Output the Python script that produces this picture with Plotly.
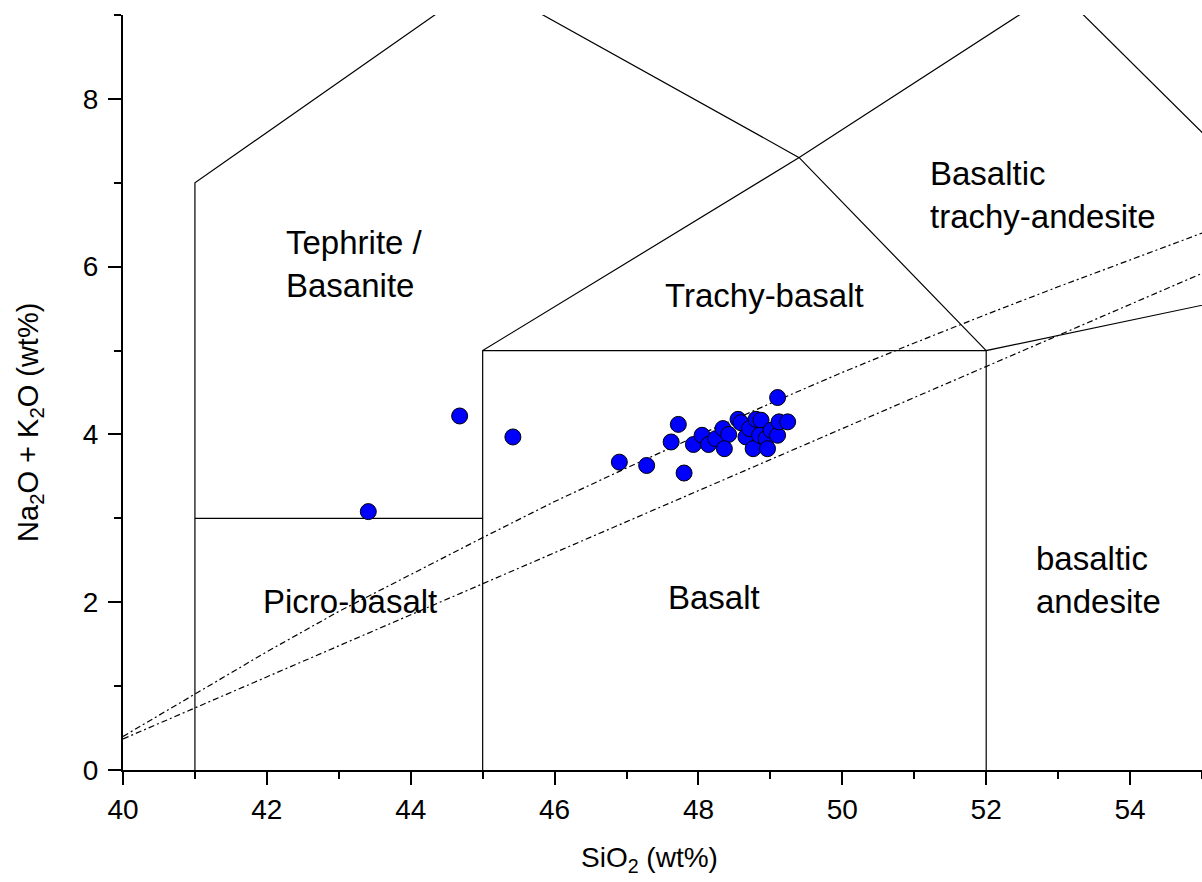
import plotly.graph_objects as go

# Sample analyses: SiO2 vs total alkalis (wt%)
sio2 = [43.41, 44.68, 45.42, 46.90, 47.28, 47.80, 47.62, 47.72, 47.93, 48.05,
        48.14, 48.24, 48.34, 48.42, 48.36, 48.55, 48.59, 48.66, 48.71, 48.76,
        48.80, 48.87, 48.85, 48.94, 48.96, 49.01, 49.10, 49.12, 49.24, 49.10]
alkali = [3.08, 4.22, 3.97, 3.67, 3.63, 3.54, 3.91, 4.12, 3.88, 3.99,
          3.88, 3.95, 4.07, 4.00, 3.83, 4.18, 4.14, 3.97, 4.07, 3.83,
          4.18, 4.17, 3.99, 3.95, 3.83, 4.05, 3.99, 4.15, 4.15, 4.44]

# TAS field boundaries (Le Bas et al.)
boundaries = [
    ([41, 41, 45], [0, 7, 9.4]),
    ([41, 45], [3, 3]),
    ([45, 45, 49.4, 53], [0, 5, 7.3, 9.3]),
    ([45, 52], [5, 5]),
    ([52, 52, 57], [0, 5, 5.9]),
    ([45, 49.4, 52], [9.4, 7.3, 5]),
    ([53, 57], [9.3, 5.9]),
]

# Alkaline / subalkaline divides
ib_x = [40, 41, 42, 43, 44, 45, 46, 47, 48, 49, 50, 51, 52, 53, 54, 55]
ib_y = [0.40, 0.91, 1.41, 1.89, 2.33, 2.77, 3.20, 3.60, 3.99, 4.37,
        4.74, 5.09, 5.43, 5.76, 6.08, 6.40]
mk_x = [40, 55]
mk_y = [0.37, 5.92]

# Field names
field_labels = ["Tephrite /<br>Basanite", "Trachy-basalt", "Basaltic<br>trachy-andesite",
                "Picro-basalt", "Basalt", "basaltic<br>andesite"]
label_x = [42.24, 48.92, 51.19, 43.15, 48.21, 52.67]
label_y = [6.03, 5.66, 6.85, 2.01, 2.06, 2.26]
label_anchor = ["left", "center", "left", "center", "center", "left"]

FONT = "Liberation Sans, Arial, sans-serif"

fig = go.Figure()

for bx, by in boundaries:
    fig.add_trace(go.Scatter(x=bx, y=by, mode="lines",
                             line=dict(color="black", width=1.2),
                             hoverinfo="skip", showlegend=False))

for dx, dy in [(ib_x, ib_y), (mk_x, mk_y)]:
    fig.add_trace(go.Scatter(x=dx, y=dy, mode="lines",
                             line=dict(color="black", width=1.2, dash="6px,3px,2px,3px"),
                             hoverinfo="skip", showlegend=False))

fig.add_trace(go.Scatter(x=sio2, y=alkali, mode="markers",
                         marker=dict(size=16, color="#0000FF",
                                     line=dict(color="black", width=1)),
                         showlegend=False))

for txt, lx, ly, anc in zip(field_labels, label_x, label_y, label_anchor):
    fig.add_annotation(x=lx, y=ly, text=txt, showarrow=False, xanchor=anc,
                       align="left", font=dict(family=FONT, size=33, color="black"))

# Axis titles
fig.add_annotation(xref="paper", yref="paper", x=0.4875, y=-0.119,
                   xanchor="center", yanchor="middle",
                   text="SiO<sub>2</sub> (wt%)", showarrow=False,
                   font=dict(family=FONT, size=28, color="black"))
fig.add_annotation(xref="paper", yref="paper", x=-0.0862, y=0.461, textangle=-90,
                   xanchor="center", yanchor="middle",
                   text="Na<sub>2</sub>O + K<sub>2</sub>O (wt%)", showarrow=False,
                   font=dict(family=FONT, size=29, color="black"))

axis_common = dict(
    showline=True, linecolor="black", linewidth=2,
    ticks="outside", ticklen=13, tickwidth=2, tickcolor="black",
    showgrid=False, zeroline=False, mirror=False,
    tickfont=dict(family=FONT, size=28, color="black"),
)

fig.update_xaxes(range=[40, 55], tick0=40, dtick=2,
                 minor=dict(ticks="outside", ticklen=7, tickwidth=2, tickcolor="black", dtick=1),
                 **axis_common)
fig.update_yaxes(range=[0, 9], tick0=0, dtick=2, ticklabelstandoff=4,
                 minor=dict(ticks="outside", ticklen=7, tickwidth=2, tickcolor="black", dtick=1),
                 **axis_common)

fig.update_layout(
    width=1202, height=882,
    margin=dict(l=123, r=0, t=15, b=112),
    plot_bgcolor="white", paper_bgcolor="white",
    font=dict(family=FONT, color="black"),
)

fig.write_html("out.html")
